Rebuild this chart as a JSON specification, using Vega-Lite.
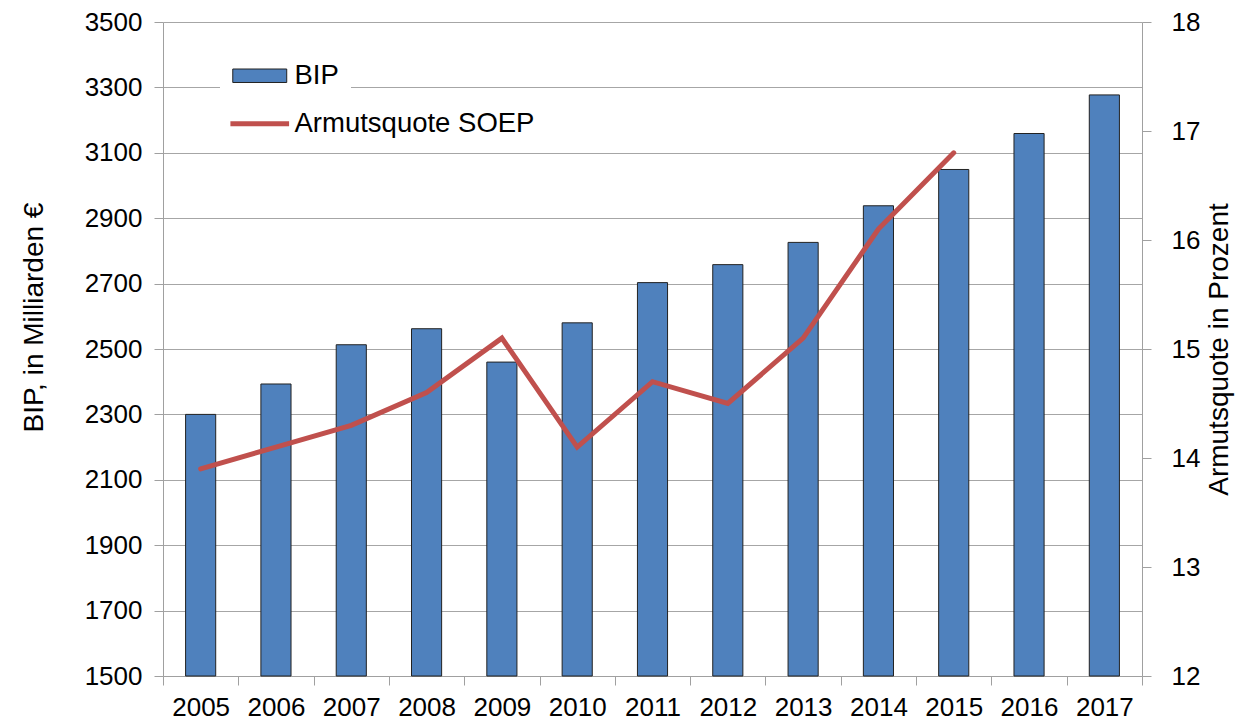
{
  "$schema": "https://vega.github.io/schema/vega-lite/v6.json",
  "width": 979,
  "height": 654,
  "autosize": {"type": "none"},
  "padding": {"left": 163, "top": 22, "right": 93, "bottom": 45},
  "background": "white",
  "config": {
    "font": "Liberation Sans",
    "view": {"stroke": null},
    "axis": {
      "domainColor": "#a0a0a0",
      "tickColor": "#a0a0a0",
      "gridColor": "#a6a6a6",
      "labelFont": "Liberation Sans",
      "labelFontSize": 26,
      "labelColor": "black",
      "titleFont": "Liberation Sans",
      "titleFontSize": 28,
      "titleFontWeight": "normal",
      "titleColor": "black",
      "tickSize": 9
    },
    "legend": {
      "title": null,
      "orient": "none",
      "fillColor": "white",
      "padding": 12,
      "labelFontSize": 27.5,
      "labelColor": "black",
      "labelFont": "Liberation Sans",
      "labelLimit": 400,
      "symbolSize": 182,
      "symbolOffset": 14,
      "labelOffset": 21
    }
  },
  "data": {
    "values": [
      {"year": "2005", "bip": 2300, "armut": 13.9},
      {"year": "2006", "bip": 2393, "armut": 14.1},
      {"year": "2007", "bip": 2513, "armut": 14.3},
      {"year": "2008", "bip": 2562, "armut": 14.6},
      {"year": "2009", "bip": 2460, "armut": 15.1},
      {"year": "2010", "bip": 2580, "armut": 14.1},
      {"year": "2011", "bip": 2703, "armut": 14.7},
      {"year": "2012", "bip": 2758, "armut": 14.5},
      {"year": "2013", "bip": 2826, "armut": 15.1},
      {"year": "2014", "bip": 2938, "armut": 16.1},
      {"year": "2015", "bip": 3049, "armut": 16.8},
      {"year": "2016", "bip": 3159, "armut": null},
      {"year": "2017", "bip": 3277, "armut": null}
    ]
  },
  "encoding": {
    "x": {
      "field": "year",
      "type": "ordinal",
      "scale": {"paddingInner": 0, "paddingOuter": 0},
      "axis": {"title": null, "labelAngle": 0, "tickBand": "extent", "grid": false, "labelPadding": 9, "domainColor": "#a0a0a0"}
    }
  },
  "layer": [
    {
      "mark": {"type": "bar", "width": {"band": 0.4}, "stroke": "#222222", "strokeWidth": 1},
      "encoding": {
        "y": {
          "field": "bip",
          "type": "quantitative",
          "scale": {"domain": [1500, 3500], "zero": false, "nice": false},
          "axis": {
            "values": [1500, 1700, 1900, 2100, 2300, 2500, 2700, 2900, 3100, 3300, 3500],
            "format": "d",
            "grid": true,
            "labelPadding": 12,
            "title": "BIP, in Milliarden €",
            "titlePadding": 36,
            "titleY": 295
          }
        },
        "y2": {"datum": 1500},
        "fill": {
          "datum": "BIP",
          "type": "nominal",
          "scale": {"domain": ["BIP"], "range": ["#4F81BD"]},
          "legend": {
            "legendX": 57,
            "legendY": 28,
            "symbolType": "M-4,-1H4V1H-4Z",
            "symbolStrokeColor": "#222222",
            "symbolStrokeWidth": 1,
            "symbolOpacity": 1
          }
        }
      }
    },
    {
      "transform": [{"filter": "isValid(datum.armut)"}],
      "mark": {"type": "line", "strokeWidth": 5, "strokeCap": "round"},
      "encoding": {
        "y": {
          "field": "armut",
          "type": "quantitative",
          "scale": {"domain": [12, 18], "zero": false, "nice": false},
          "axis": {
            "orient": "right",
            "values": [12, 13, 14, 15, 16, 17, 18],
            "grid": false,
            "labelPadding": 20,
            "title": "Armutsquote in Prozent",
            "titleAngle": 270,
            "titleBaseline": "top",
            "titlePadding": 6
          }
        },
        "stroke": {
          "datum": "Armutsquote SOEP",
          "type": "nominal",
          "scale": {"domain": ["Armutsquote SOEP"], "range": ["#C0504D"]},
          "legend": {
            "legendX": 57,
            "legendY": 76,
            "symbolType": "M-4.35,0H4.35",
            "symbolStrokeWidth": 5,
            "symbolOpacity": 1
          }
        }
      }
    }
  ],
  "resolve": {"scale": {"y": "independent"}}
}
